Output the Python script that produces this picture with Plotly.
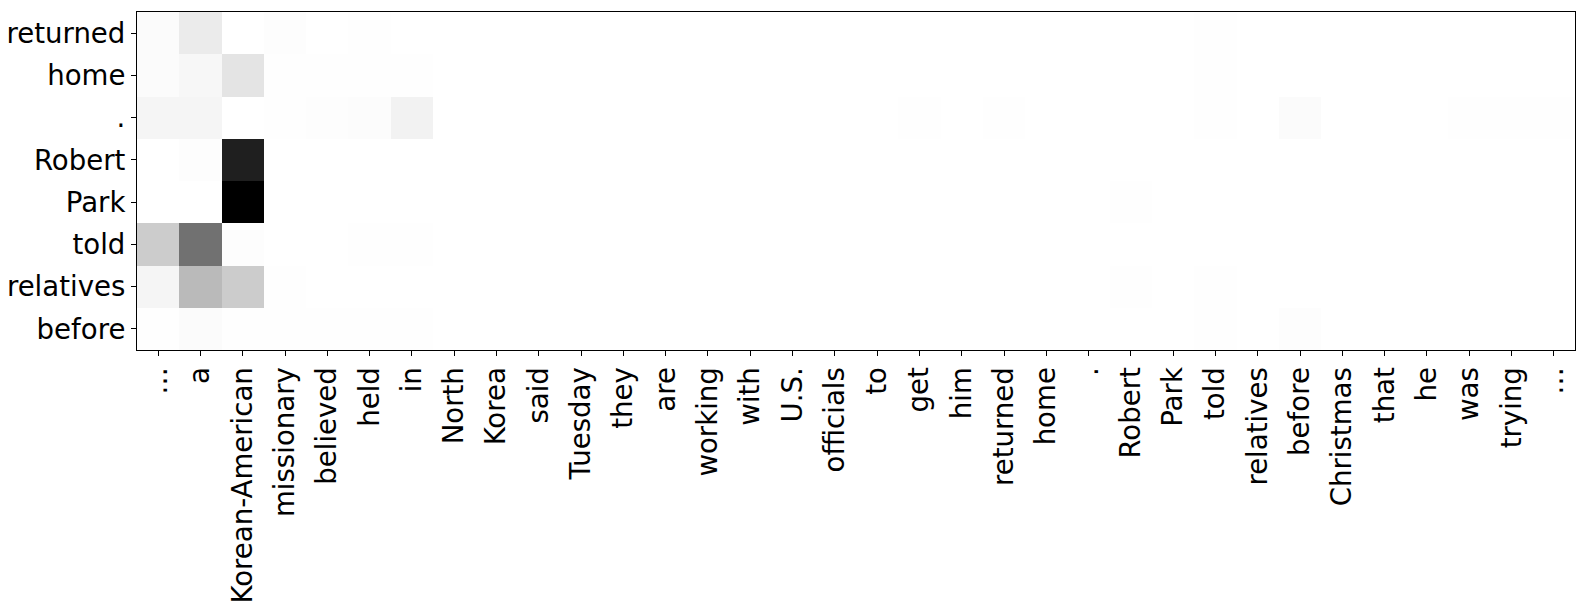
import plotly.graph_objects as go

source_tokens = ["…", "a", "Korean-American", "missionary", "believed", "held", "in",
                 "North", "Korea", "said", "Tuesday", "they", "are", "working", "with",
                 "U.S.", "officials", "to", "get", "him", "returned", "home", ".",
                 "Robert", "Park", "told", "relatives", "before", "Christmas", "that",
                 "he", "was", "trying", "…"]
target_tokens = ["returned", "home", ".", "Robert", "Park", "told", "relatives", "before"]

N = len(source_tokens)

def row(vals):
    r = [0.0] * N
    for k, v in vals.items():
        r[k] = v
    return r

w_returned = row({0: 0.035, 1: 0.15, 3: 0.015, 5: 0.008, 25: 0.006})
w_home = row({0: 0.03, 1: 0.07, 2: 0.19, 3: 0.006, 4: 0.006, 5: 0.006, 6: 0.006, 25: 0.006})
w_period = row({0: 0.08, 1: 0.08, 3: 0.012, 4: 0.018, 5: 0.028, 6: 0.11, 18: 0.006,
                20: 0.008, 25: 0.006, 27: 0.03, 31: 0.008, 32: 0.008, 33: 0.008})
w_robert = row({1: 0.015, 2: 0.895})
w_park = row({2: 1.0, 23: 0.01})
w_told = row({0: 0.31, 1: 0.633, 2: 0.02, 5: 0.006, 6: 0.006})
w_relatives = row({0: 0.08, 1: 0.385, 2: 0.31, 3: 0.012, 23: 0.006, 25: 0.006})
w_before = row({0: 0.012, 1: 0.03, 2: 0.008, 3: 0.006, 4: 0.006, 5: 0.006, 6: 0.006,
                25: 0.006, 27: 0.02})

z = [w_returned, w_home, w_period, w_robert, w_park, w_told, w_relatives, w_before]

greys = [[0, '#ffffff'], [0.125, '#f0f0f0'], [0.25, '#d9d9d9'], [0.375, '#bdbdbd'],
         [0.5, '#969696'], [0.625, '#737373'], [0.75, '#525252'], [0.875, '#252525'],
         [1, '#000000']]

fig = go.Figure(go.Heatmap(
    z=z, x=list(range(N)), y=list(range(len(target_tokens))),
    colorscale=greys, zmin=0, zmax=1, showscale=False,
))

font = dict(family="DejaVu Sans", size=27.6, color="black")
fig.update_layout(
    width=1581, height=605,
    margin=dict(l=137, r=6, t=12, b=255),
    paper_bgcolor="white", plot_bgcolor="white",
    font=font,
)
fig.update_xaxes(
    tickmode="array", tickvals=list(range(N)), ticktext=source_tokens,
    tickangle=-90, ticks="outside", ticklen=5, tickwidth=1, tickcolor="black",
    showline=True, linecolor="black", linewidth=1.2, mirror=True, automargin=False,
    showgrid=False, zeroline=False, range=[-0.5, N - 0.5], tickfont=font,
)
fig.update_yaxes(
    tickmode="array", tickvals=list(range(len(target_tokens))), ticktext=target_tokens,
    ticks="outside", ticklen=5, tickwidth=1, tickcolor="black",
    showline=True, linecolor="black", linewidth=1.2, mirror=True, automargin=False,
    showgrid=False, zeroline=False, range=[len(target_tokens) - 0.5, -0.5], tickfont=font,
)

fig.write_html("out.html")
